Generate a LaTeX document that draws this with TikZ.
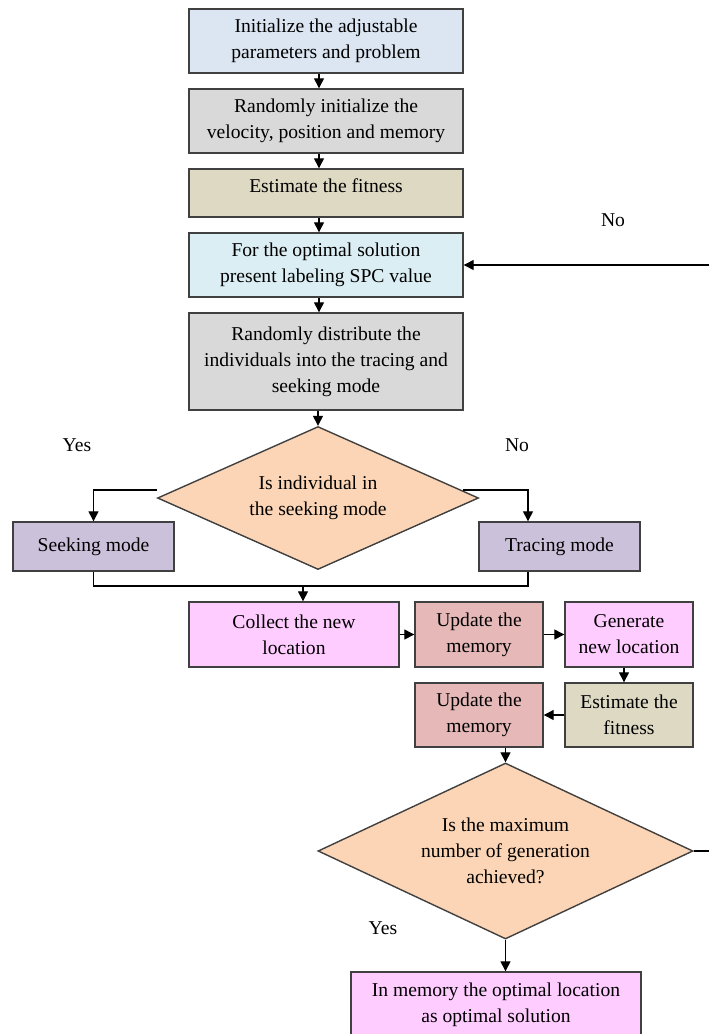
\documentclass[tikz,border=0pt]{standalone}
\usepackage{fontspec}
\setmainfont{Liberation Serif}
\usetikzlibrary{shapes.geometric,arrows.meta}
\definecolor{boxline}{HTML}{404040}
\definecolor{initfill}{HTML}{DCE6F2}
\definecolor{grayfill}{HTML}{D9D9D9}
\definecolor{tanfill}{HTML}{DDD9C3}
\definecolor{cyanfill}{HTML}{DBEEF4}
\definecolor{peachfill}{HTML}{FBD5B5}
\definecolor{modefill}{HTML}{CCC1DA}
\definecolor{pinkfill}{HTML}{FFCCFF}
\definecolor{memfill}{HTML}{E6B9B8}
\tikzset{
  box/.style={draw=boxline, line width=1.4pt, align=center, inner sep=0pt,
    font=\fontsize{19.6}{26}\selectfont},
  decision/.style={box, diamond},
  lbl/.style={font=\fontsize{19.6}{26}\selectfont},
  arr/.style={-{Triangle[length=10pt,width=10pt]}, line width=1.3pt},
  link/.style={line width=1.3pt}
}
\begin{document}
\begin{tikzpicture}[x=1pt,y=-1pt]
\useasboundingbox (0,0) rectangle (709,1034);
% main column
\node[box,fill=initfill,minimum width=274pt,minimum height=64pt] (init) at (326,41) {Initialize the adjustable\\parameters and problem};
\node[box,fill=grayfill,minimum width=274pt,minimum height=64pt] (randinit) at (326,121) {Randomly initialize the\\velocity, position and memory};
\node[box,fill=tanfill,minimum width=274pt,minimum height=48pt,text depth=14pt] (fit) at (326,193) {Estimate the fitness};
\node[box,fill=cyanfill,minimum width=274pt,minimum height=64pt] (spc) at (326,265) {For the optimal solution\\present labeling SPC value};
\node[box,fill=grayfill,minimum width=274pt,minimum height=97pt] (distr) at (326,361.5) {Randomly distribute the\\individuals into the tracing and\\seeking mode};
\node[decision,fill=peachfill,minimum width=321pt,minimum height=143pt,aspect=2.2] (mode) at (318,498) {Is individual in\\the seeking mode};
\node[box,fill=modefill,minimum width=161pt,minimum height=49pt] (seek) at (93.5,546.5) {Seeking mode};
\node[box,fill=modefill,minimum width=161pt,minimum height=49pt] (trace) at (559.5,546.5) {Tracing mode};
% update loop
\node[box,fill=pinkfill,minimum width=210pt,minimum height=65pt] (collect) at (294,634.5) {Collect the new\\location};
\node[box,fill=memfill,minimum width=128pt,minimum height=65pt] (upda) at (479,634.5) {Update the\\memory};
\node[box,fill=pinkfill,minimum width=128pt,minimum height=65pt] (gen) at (629,634.5) {Generate\\new location};
\node[box,fill=tanfill,minimum width=128pt,minimum height=64pt] (fitb) at (629,715) {Estimate the\\fitness};
\node[box,fill=memfill,minimum width=128pt,minimum height=64pt] (updb) at (479,715) {Update the\\memory};
\node[decision,fill=peachfill,minimum width=375pt,minimum height=176pt,aspect=2.1] (maxgen) at (505.5,851) {Is the maximum\\number of generation\\achieved?};
\node[box,fill=pinkfill,minimum width=290pt,minimum height=66pt] (best) at (496,1005) {In memory the optimal location\\as optimal solution};
% labels
\node[lbl] (yesa) at (77,445) {Yes};
\node[lbl] (noa) at (517,445) {No};
\node[lbl] (nob) at (613,220) {No};
\node[lbl] (yesb) at (383,928) {Yes};
% connectors
\draw[arr] ([xshift=-7pt]init.south) -- ([xshift=-7pt]randinit.north);
\draw[arr] ([xshift=-7pt]randinit.south) -- ([xshift=-7pt]fit.north);
\draw[arr] ([xshift=-7pt]fit.south) -- ([xshift=-7pt]spc.north);
\draw[arr] ([xshift=-7pt]spc.south) -- ([xshift=-7pt]distr.north);
\draw[arr] (distr.south -| mode.north) -- (mode.north);
\draw[arr] ([yshift=8pt]mode.west) -| (seek.north);
\draw[arr] ([xshift=-16pt,yshift=8pt]mode.east) -| ([xshift=-31.5pt]trace.north);
\coordinate (merge) at (303,586);
\draw[link] (seek.south) |- (merge) -| ([xshift=-31.5pt]trace.south);
\draw[arr] (merge) -- (merge |- collect.north);
\draw[arr] (collect.east) -- (upda.west);
\draw[arr] (upda.east) -- (gen.west);
\draw[arr] ([xshift=-5pt]gen.south) -- ([xshift=-5pt]fitb.north);
\draw[arr] (fitb.west) -- (updb.east);
\draw[arr] (updb.south -| maxgen.north) -- (maxgen.north);
\draw[arr] (maxgen.south) -- (maxgen.south |- best.north);
\coordinate (loop) at (716,851);
\draw[arr] (maxgen.east) -- (loop) |- (spc.east);
\end{tikzpicture}
\end{document}
